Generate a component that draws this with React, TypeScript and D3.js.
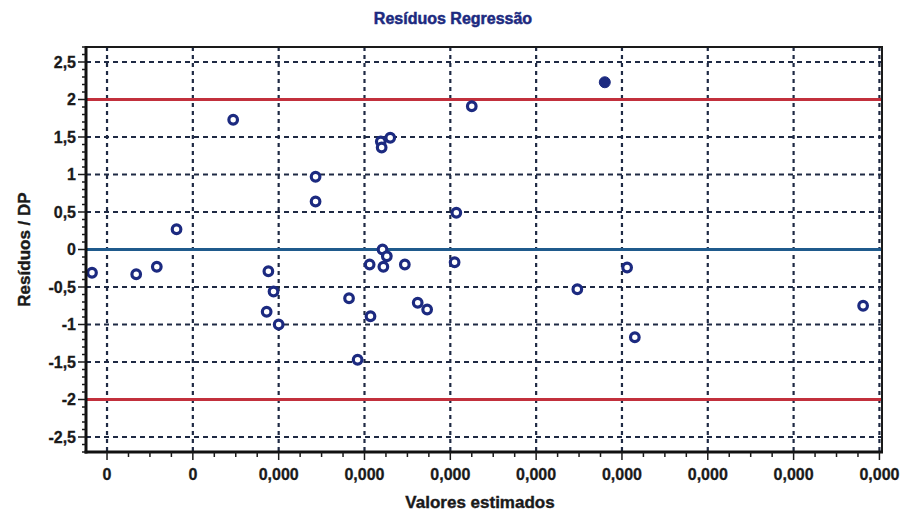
import * as d3 from 'd3';

// residuals vs fitted (x in tick units, the axis labels are all "0,000")
const xValues = [
  -0.175, 0.34, 0.58, 0.81, 1.47, 1.86, 1.88, 1.94, 2.0, 2.43, 2.43, 2.82, 2.92, 3.06, 3.07, 3.19,
  3.2, 3.3, 3.21, 3.26, 3.22, 3.47, 3.62, 3.73, 4.05, 4.07, 4.25, 5.48, 5.8, 6.06, 6.15, 8.81,
];
const residuals = [
  -0.31, -0.33, -0.23, 0.27, 1.73, -0.83, -0.29, -0.56, -1.0, 0.97, 0.64, -0.65, -1.47, -0.2, -0.89, 1.44,
  1.36, 1.49, 0.0, -0.09, -0.23, -0.2, -0.71, -0.8, -0.17, 0.49, 1.91, -0.53, 2.23, -0.24, -1.17, -0.75,
];
// the one point that is drawn solid
const highlighted = [28];

const xTicks = [0, 1, 2, 3, 4, 5, 6, 7, 8, 9];
const xTickLabels = ['0', '0', '0,000', '0,000', '0,000', '0,000', '0,000', '0,000', '0,000', '0,000'];
const yTicks = [-2.5, -2, -1.5, -1, -0.5, 0, 0.5, 1, 1.5, 2, 2.5];
const limits = [-2, 2];

const width = 906;
const height = 515;
const margin = { top: 47, right: 24, bottom: 63, left: 86 };

const fmt = (v: number) => String(v).replace('.', ',');

export default function App() {
  const x = d3.scaleLinear().domain([-0.245, 9.03]).range([margin.left, width - margin.right]);
  const y = d3.scaleLinear().domain([-2.7, 2.7]).range([height - margin.bottom, margin.top]);

  const [x0, x1] = x.range();
  const [y0, y1] = [y.range()[1], y.range()[0]];

  const minorX: number[] = [];
  xTicks.slice(0, -1).forEach(t => [0.25, 0.5, 0.75].forEach(f => minorX.push(t + f)));
  const minorY = d3.range(-27, 28).map(v => v / 10).filter(v => Math.abs((v * 2) % 1) > 0.01);

  const grid = '#1f2a44';
  const font = '"Liberation Sans", Arial, sans-serif';
  const ink = '#1a1a1a';

  return (
    <svg width={width} height={height} style={{ position: 'absolute', left: 0, top: 0, background: '#fff' }}>
      <text
        x={453}
        y={24}
        textAnchor="middle"
        fontFamily={font}
        fontWeight="bold"
        fontSize={16}
        fill="#1c2a80"
        stroke="#1c2a80"
        strokeWidth={0.5}
      >
        Resíduos Regressão
      </text>

      {/* grid */}
      <g stroke={grid} strokeWidth={1.8} strokeDasharray="5,4">
        {yTicks.map(t => (
          <line key={'gy' + t} x1={x0} x2={x1} y1={y(t)} y2={y(t)} />
        ))}
        {xTicks.map(t => (
          <line key={'gx' + t} x1={x(t)} x2={x(t)} y1={y0} y2={y1} strokeWidth={2.2} strokeDasharray="4,4" />
        ))}
      </g>

      {/* limits and zero */}
      {limits.map(l => (
        <line key={'l' + l} x1={x0} x2={x1} y1={y(l)} y2={y(l)} stroke="#c2303c" strokeWidth={3} />
      ))}
      <line x1={x0} x2={x1} y1={y(0)} y2={y(0)} stroke="#1f5a8c" strokeWidth={3} />

      {/* points */}
      <g>
        {xValues.map((v, i) => {
          const solid = highlighted.includes(i);
          return (
            <circle
              key={i}
              cx={x(v)}
              cy={y(residuals[i])}
              r={solid ? 5.5 : 4.3}
              fill={solid ? '#1c2a80' : '#fff'}
              stroke="#1c2a80"
              strokeWidth={solid ? 1 : 3.2}
            />
          );
        })}
      </g>

      {/* frame */}
      <rect x={x0} y={y0} width={x1 - x0} height={y1 - y0} fill="none" stroke={ink} strokeWidth={2} />
      <line x1={x0} x2={x0} y1={y0 - 1} y2={y1 + 1.5} stroke="#111" strokeWidth={3} />
      <line x1={x0 - 1.5} x2={x1 + 1} y1={y1} y2={y1} stroke="#111" strokeWidth={3} />

      {/* y axis */}
      <g stroke={ink} strokeWidth={1.5}>
        {yTicks.map(t => (
          <line key={'ty' + t} x1={x0 - 8} x2={x0} y1={y(t)} y2={y(t)} />
        ))}
        {minorY.map(t => (
          <line key={'my' + t} x1={x0 - 4} x2={x0} y1={y(t)} y2={y(t)} />
        ))}
      </g>
      {yTicks.map(t => (
        <text
          key={'ly' + t}
          x={x0 - 10}
          y={y(t) + 5.5}
          textAnchor="end"
          fontFamily={font}
          fontWeight="bold"
          fontSize={16}
          fill={ink}
          stroke={ink}
          strokeWidth={0.3}
        >
          {fmt(t)}
        </text>
      ))}

      {/* x axis */}
      <g stroke={ink} strokeWidth={1.5}>
        {xTicks.map(t => (
          <line key={'tx' + t} x1={x(t)} x2={x(t)} y1={y1} y2={y1 + 8} />
        ))}
        {minorX.map(t => (
          <line key={'mx' + t} x1={x(t)} x2={x(t)} y1={y1} y2={y1 + 5} />
        ))}
      </g>
      {xTicks.map((t, i) => (
        <text
          key={'lx' + t}
          x={x(t)}
          y={y1 + 28}
          textAnchor="middle"
          fontFamily={font}
          fontWeight="bold"
          fontSize={16}
          fill={ink}
          stroke={ink}
          strokeWidth={0.3}
        >
          {xTickLabels[i]}
        </text>
      ))}

      <text
        x={480}
        y={508}
        textAnchor="middle"
        fontFamily={font}
        fontWeight="bold"
        fontSize={17}
        fill={ink}
        stroke={ink}
        strokeWidth={0.4}
      >
        Valores estimados
      </text>
      <text
        transform={`translate(30,${y(0)}) rotate(-90)`}
        textAnchor="middle"
        fontFamily={font}
        fontWeight="bold"
        fontSize={17}
        fill={ink}
        stroke={ink}
        strokeWidth={0.4}
      >
        Resíduos / DP
      </text>
    </svg>
  );
}
